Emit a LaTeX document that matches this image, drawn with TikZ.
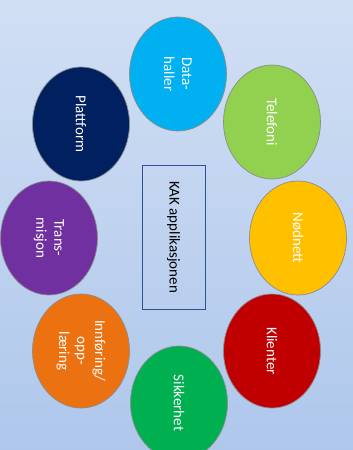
\documentclass[tikz,border=0pt]{standalone}
\usepackage{fontspec}
\setmainfont{Carlito}
\usetikzlibrary{shapes.geometric}
\definecolor{bgtop}{RGB}{209,223,244}
\definecolor{bgbot}{RGB}{174,199,235}
\definecolor{cdata}{RGB}{0,176,240}
\definecolor{ctele}{RGB}{146,208,80}
\definecolor{cnod}{RGB}{255,192,0}
\definecolor{cklient}{RGB}{192,0,0}
\definecolor{csikker}{RGB}{0,176,80}
\definecolor{cinn}{RGB}{236,113,16}
\definecolor{ctrans}{RGB}{112,48,160}
\definecolor{cplatt}{RGB}{0,32,96}
\definecolor{crect}{RGB}{47,80,145}
\tikzset{
  bubble/.style={ellipse, rotate=-90, minimum width=114pt, minimum height=97pt,
    inner sep=0pt, draw=gray!90, line width=0.7pt, text=white, align=center,
    font=\fontsize{15}{18}\selectfont},
  kak/.style={rectangle, rotate=-90, minimum width=144pt, minimum height=63pt,
    draw=crect, line width=1pt, text=black, font=\fontsize{15}{18}\selectfont}
}
\begin{document}
\begin{tikzpicture}[x=1pt,y=1pt]
\useasboundingbox (0,0) rectangle (353,-450);
\shade[top color=bgtop, bottom color=bgbot] (0,0) rectangle (353,-450);
\begin{scope}
\clip (0,0) rectangle (353,-450);
\node[bubble, fill=cdata] (data) at (178,-74) {Data-\\haller};
\node[bubble, fill=ctele] (tele) at (272,-122) {Telefoni};
\node[bubble, fill=cplatt] (platt) at (81,-124) {Plattform};
\node[bubble, fill=ctrans] (trans) at (49,-238) {Trans-\\misjon};
\node[bubble, fill=cnod] (nod) at (298,-238) {Nødnett};
\node[bubble, fill=cinn] (inn) at (81,-351) {Innføring/\\opp-\\læring};
\node[bubble, fill=cklient] (klient) at (272,-351) {Klienter};
\node[bubble, fill=csikker] (sikker) at (179,-403) {Sikkerhet};
\node[kak] (kak) at (173.5,-237) {KAK applikasjonen};
\end{scope}
\end{tikzpicture}
\end{document}
